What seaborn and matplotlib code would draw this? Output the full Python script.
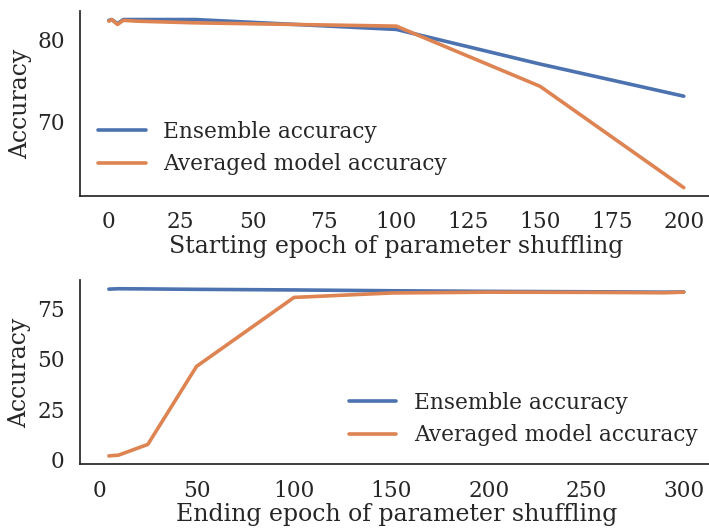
import pandas as pd
import matplotlib
matplotlib.use('Agg')
import matplotlib.pyplot as plt
import seaborn as sns

# Top panel: starting epoch of parameter shuffling
start_epochs = [0, 1, 3, 5, 10, 30, 100, 150, 200]
start_ensemble = [82.3, 82.4, 81.9, 82.4, 82.4, 82.4, 81.2, 77.0, 73.1]
start_averaged = [82.2, 82.4, 81.8, 82.3, 82.2, 82.0, 81.6, 74.3, 62.0]

# Bottom panel: ending epoch of parameter shuffling
end_epochs = [5, 10, 25, 50, 100, 150, 200, 250, 290, 300]
end_ensemble = [84.5, 84.7, 84.6, 84.4, 84.1, 83.7, 83.4, 83.2, 83.0, 83.1]
end_averaged = [2.0, 2.4, 7.7, 46.3, 80.4, 82.6, 83.0, 82.9, 82.7, 83.0]

series_names = ['Ensemble accuracy', 'Averaged model accuracy']

sns.set_theme(style='white', palette='deep')
plt.rcParams['font.family'] = ['DejaVu Serif']

label_size = 17
tick_size = 15.6

df_start = pd.concat([
    pd.DataFrame({'epoch': start_epochs, 'acc': start_ensemble, 'kind': series_names[0]}),
    pd.DataFrame({'epoch': start_epochs, 'acc': start_averaged, 'kind': series_names[1]}),
])
df_end = pd.concat([
    pd.DataFrame({'epoch': end_epochs, 'acc': end_ensemble, 'kind': series_names[0]}),
    pd.DataFrame({'epoch': end_epochs, 'acc': end_averaged, 'kind': series_names[1]}),
])

fig = plt.figure(figsize=(7.09, 5.30), dpi=100)
ax1 = fig.add_axes([0.113, 0.630, 0.892, 0.349])
ax2 = fig.add_axes([0.113, 0.124, 0.892, 0.347])

for ax, df, xlabel in [
    (ax1, df_start, 'Starting epoch of parameter shuffling'),
    (ax2, df_end, 'Ending epoch of parameter shuffling'),
]:
    sns.lineplot(data=df, x='epoch', y='acc', hue='kind', ax=ax, linewidth=2.6)
    ax.set_xlabel(xlabel, fontsize=label_size, labelpad=1)
    ax.set_ylabel('Accuracy', fontsize=label_size, labelpad=4)
    ax.tick_params(labelsize=tick_size, pad=5)
    sns.despine(ax=ax)

ax1.legend(loc='lower left', bbox_to_anchor=(0.005, 0.03), frameon=False,
           fontsize=tick_size, handlelength=2.2, borderaxespad=0.3)
ax2.legend(loc='lower right', bbox_to_anchor=(1.0, 0.015), frameon=False,
           fontsize=tick_size, handlelength=2.2, borderaxespad=0.3)

ax1.set_xticks([0, 25, 50, 75, 100, 125, 150, 175, 200])
ax2.set_xticks([0, 50, 100, 150, 200, 250, 300])
ax2.set_yticks([0, 25, 50, 75])
ax1.set_yticks([70, 80])

fig.savefig('out.png', dpi=100)
